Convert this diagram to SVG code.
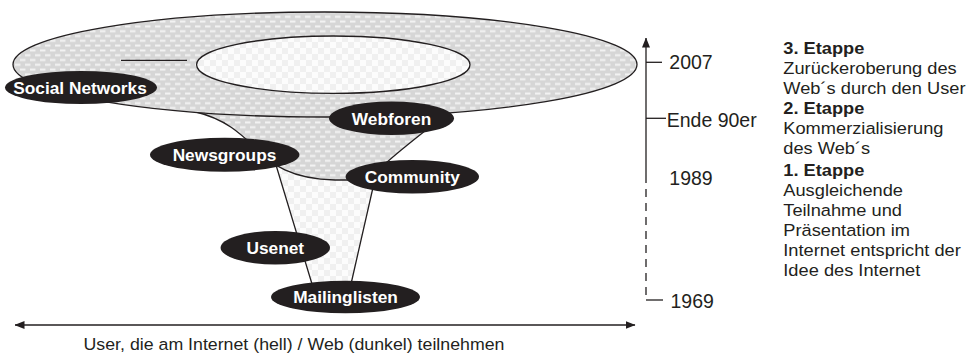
<svg xmlns="http://www.w3.org/2000/svg" width="966" height="353" viewBox="0 0 966 353">
<style>
.ln{fill:none;stroke:#231f20;stroke-width:1.3}
.dkf{fill:url(#dk);stroke:#231f20;stroke-width:1.3}
.ltf{fill:url(#lt);stroke:#231f20;stroke-width:1.3}
.node{fill:#231f20}
.nl{font-family:"Liberation Sans",Arial,sans-serif;font-weight:bold;font-size:17.3px;fill:#ffffff;text-anchor:middle}
.yr{font-family:"Liberation Sans",Arial,sans-serif;font-size:19.5px;fill:#231f20}
.rt{font-family:"Liberation Sans",Arial,sans-serif;font-size:16.3px;fill:#231f20}
.rt .b{font-weight:bold}
</style>
<defs>
<pattern id="dk" width="10" height="9.6" patternUnits="userSpaceOnUse">
<rect width="10" height="9.6" fill="#d6d6d6"/>
<rect x="0" y="1.4" width="5.5" height="2" fill="#f3f3f3"/>
<rect x="5" y="6.2" width="5.5" height="2" fill="#f3f3f3"/>
<rect x="-5" y="6.2" width="5.5" height="2" fill="#f3f3f3"/>
</pattern>
<pattern id="lt" width="12" height="12" patternUnits="userSpaceOnUse">
<rect width="12" height="12" fill="#f0f0f0"/>
<rect width="6" height="6" fill="#fcfcfc"/>
<rect x="6" y="6" width="6" height="6" fill="#fcfcfc"/>
</pattern>
<marker id="ah" viewBox="0 0 10 8" refX="9.5" refY="4" markerWidth="10" markerHeight="8" markerUnits="userSpaceOnUse" orient="auto-start-reverse">
<path d="M0,0 L10,4 L0,8 Z" fill="#231f20"/>
</marker>
</defs>

<g id="funnel">
<path d="M276,165 L312,284 L351,284 L377,170 Z" fill="url(#lt)"/>
<path d="M196,112 C225,119 240,133 258,150 C272,164 290,179 335,180 L368,180 L386,163 C400,150 420,135 450,111 Z" fill="url(#dk)"/>
<path class="ln" d="M276,165 L312,284 M351,284 L377,170"/>
<path class="ln" d="M196,112 C225,119 240,133 258,150 C272,164 290,179 335,180 L368,180 L386,163 C400,150 420,135 450,111"/>
<ellipse class="dkf" cx="325" cy="64.5" rx="312" ry="52.5"/>
<ellipse class="ltf" cx="333.3" cy="64.7" rx="136.7" ry="28.7"/>
<line class="ln" x1="121" y1="60.3" x2="187" y2="60.3"/>
</g>

<g id="connectors">
<line class="ln" x1="15" y1="325" x2="635" y2="325" marker-start="url(#ah)" marker-end="url(#ah)"/>
<line class="ln" x1="646" y1="175" x2="646" y2="38" marker-end="url(#ah)"/>
<path class="ln" d="M646,175 L646,300" stroke-dasharray="8 6"/>
<path class="ln" d="M646,300 L663,300"/>
<line class="ln" x1="646" y1="62.3" x2="662" y2="62.3"/>
<line class="ln" x1="646" y1="118.3" x2="666" y2="118.3"/>
</g>

<g id="social-networks"><ellipse class="node" cx="81" cy="87.5" rx="76" ry="16.5"/><text class="nl" x="80" y="93.8">Social Networks</text></g>
<g id="webforen"><ellipse class="node" cx="391.5" cy="118.3" rx="62.5" ry="16.7"/><text class="nl" x="391.5" y="124.6">Webforen</text></g>
<g id="newsgroups"><ellipse class="node" cx="224.7" cy="154.7" rx="74.7" ry="17"/><text class="nl" x="224.5" y="161">Newsgroups</text></g>
<g id="community"><ellipse class="node" cx="412.3" cy="176.7" rx="66.7" ry="16.7"/><text class="nl" x="412.3" y="183">Community</text></g>
<g id="usenet"><ellipse class="node" cx="275.3" cy="247.7" rx="54.7" ry="16.7"/><text class="nl" x="275.3" y="254">Usenet</text></g>
<g id="mailinglisten"><ellipse class="node" cx="345.5" cy="297" rx="74.5" ry="16.3"/><text class="nl" x="345.5" y="303.3">Mailinglisten</text></g>

<g id="years">
<text class="yr" x="669.3" y="69.3">2007</text>
<text class="yr" x="666.7" y="126.5">Ende 90er</text>
<text class="yr" x="669.3" y="185">1989</text>
<text class="yr" x="670.5" y="308.3">1969</text>
</g>

<g id="stages" transform="translate(783.3 0) scale(1.12 1)">
<text class="rt" x="0" y="54"><tspan class="b">3. Etappe</tspan></text>
<text class="rt" x="0" y="74.5">Zurückeroberung des</text>
<text class="rt" x="0" y="94.5">Web´s durch den User</text>
<text class="rt" x="0" y="114.5"><tspan class="b">2. Etappe</tspan></text>
<text class="rt" x="0" y="134.5">Kommerzialisierung</text>
<text class="rt" x="0" y="154.5">des Web´s</text>
<text class="rt" x="0" y="176"><tspan class="b">1. Etappe</tspan></text>
<text class="rt" x="0" y="196">Ausgleichende</text>
<text class="rt" x="0" y="216">Teilnahme und</text>
<text class="rt" x="0" y="236">Präsentation im</text>
<text class="rt" x="0" y="256">Internet entspricht der</text>
<text class="rt" x="0" y="276.5">Idee des Internet</text>
</g>

<g id="caption" transform="translate(294 349.5) scale(1.09 1)">
<text class="rt" x="0" y="0" text-anchor="middle">User, die am Internet (hell) / Web (dunkel) teilnehmen</text>
</g>
</svg>
